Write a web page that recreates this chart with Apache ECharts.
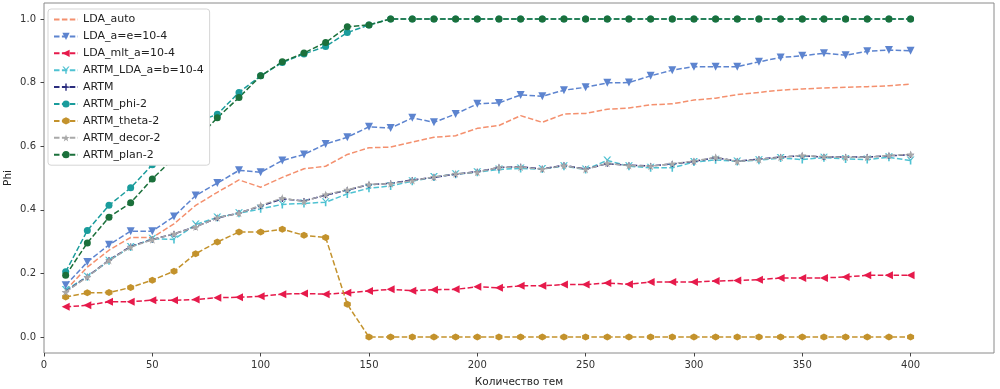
<!DOCTYPE html>
<html>
<head>
<meta charset="utf-8">
<script src="https://cdn.jsdelivr.net/npm/echarts@6/dist/echarts.min.js"></script>
<style>
  html, body { margin: 0; padding: 0; background: #fff; }
  #main { width: 1000px; height: 389px; }
</style>
</head>
<body>
<div id="main"></div>
<script>
// число тем
var topics = [10, 20, 30, 40, 50, 60, 70, 80, 90, 100, 110, 120, 130, 140, 150, 160, 170, 180, 190, 200,
              210, 220, 230, 240, 250, 260, 270, 280, 290, 300, 310, 320, 330, 340, 350, 360, 370, 380, 390, 400];

var ldaAuto = [0.147, 0.22, 0.273, 0.313, 0.313, 0.356, 0.414, 0.455, 0.494, 0.471, 0.502, 0.529, 0.537, 0.574, 0.595, 0.597, 0.613, 0.628, 0.633, 0.656,
               0.665, 0.696, 0.675, 0.701, 0.703, 0.716, 0.72, 0.73, 0.733, 0.745, 0.751, 0.762, 0.769, 0.776, 0.78, 0.783, 0.785, 0.787, 0.79, 0.795];
var ldaAE = [0.163, 0.236, 0.29, 0.333, 0.333, 0.379, 0.445, 0.484, 0.524, 0.518, 0.555, 0.574, 0.607, 0.628, 0.661, 0.657, 0.689, 0.675, 0.701, 0.733,
             0.736, 0.761, 0.757, 0.776, 0.785, 0.799, 0.8, 0.821, 0.839, 0.85, 0.85, 0.85, 0.865, 0.879, 0.884, 0.892, 0.886, 0.898, 0.902, 0.9];
var ldaMlt = [0.095, 0.1, 0.111, 0.111, 0.116, 0.116, 0.118, 0.124, 0.125, 0.128, 0.135, 0.137, 0.135, 0.139, 0.145, 0.15, 0.146, 0.149, 0.15, 0.158,
              0.155, 0.161, 0.161, 0.165, 0.165, 0.17, 0.166, 0.173, 0.173, 0.173, 0.176, 0.178, 0.18, 0.186, 0.186, 0.186, 0.189, 0.194, 0.194, 0.194];
var artmLda = [0.148, 0.19, 0.24, 0.283, 0.309, 0.307, 0.354, 0.376, 0.389, 0.403, 0.417, 0.42, 0.424, 0.45, 0.468, 0.475, 0.49, 0.503, 0.512, 0.518,
               0.527, 0.53, 0.528, 0.537, 0.527, 0.555, 0.537, 0.532, 0.532, 0.55, 0.557, 0.552, 0.556, 0.563, 0.558, 0.564, 0.56, 0.558, 0.565, 0.555];
var artm = [0.143, 0.19, 0.242, 0.285, 0.307, 0.324, 0.347, 0.374, 0.39, 0.412, 0.434, 0.428, 0.446, 0.462, 0.479, 0.483, 0.494, 0.502, 0.512, 0.52,
            0.533, 0.535, 0.529, 0.54, 0.528, 0.545, 0.54, 0.538, 0.544, 0.552, 0.564, 0.553, 0.559, 0.566, 0.57, 0.566, 0.566, 0.566, 0.57, 0.573];
var phi2 = [0.205, 0.335, 0.414, 0.469, 0.542, 0.6, 0.675, 0.70, 0.769, 0.821, 0.863, 0.89, 0.913, 0.957, 0.981, 1, 1, 1, 1, 1,
            1, 1, 1, 1, 1, 1, 1, 1, 1, 1, 1, 1, 1, 1, 1, 1, 1, 1, 1, 1];
var theta2 = [0.126, 0.139, 0.14, 0.156, 0.179, 0.207, 0.262, 0.299, 0.33, 0.33, 0.339, 0.32, 0.313, 0.103, 0, 0, 0, 0, 0, 0,
              0, 0, 0, 0, 0, 0, 0, 0, 0, 0, 0, 0, 0, 0, 0, 0, 0, 0, 0, 0];
var decor2 = [0.142, 0.189, 0.241, 0.283, 0.306, 0.325, 0.346, 0.375, 0.389, 0.414, 0.437, 0.426, 0.448, 0.463, 0.48, 0.482, 0.492, 0.503, 0.513, 0.518,
              0.534, 0.534, 0.528, 0.539, 0.527, 0.546, 0.539, 0.537, 0.545, 0.553, 0.565, 0.552, 0.558, 0.565, 0.571, 0.567, 0.565, 0.565, 0.571, 0.574];
var plan2 = [0.194, 0.296, 0.377, 0.422, 0.497, 0.563, 0.618, 0.689, 0.753, 0.821, 0.865, 0.893, 0.926, 0.975, 0.981, 1, 1, 1, 1, 1,
             1, 1, 1, 1, 1, 1, 1, 1, 1, 1, 1, 1, 1, 1, 1, 1, 1, 1, 1, 1];

// маркеры
var STAR = 'path://M10,0 L12.35,6.76 L19.51,6.91 L13.8,11.24 L15.88,18.09 L10,14 L4.12,18.09 L6.2,11.24 L0.49,6.91 L7.65,6.76 Z';
var TRI_DOWN = 'path://M0,0 L2,0 L5,3.5 L8,0 L10,0 L6,4.6 L6,10 L4,10 L4,4.6 Z';
var PLUS = 'path://M4,0 L6,0 L6,4 L10,4 L10,6 L6,6 L6,10 L4,10 L4,6 L0,6 L0,4 L4,4 Z';
var HEX = 'path://M5,0 L9.33,2.5 L9.33,7.5 L5,10 L0.67,7.5 L0.67,2.5 Z';

function pairs(vals) {
    var out = [];
    for (var i = 0; i < topics.length; i++) {
        out.push([topics[i], vals[i]]);
    }
    return out;
}

function mkSeries(name, vals, color, symbol, size, rotate) {
    var noMarker = symbol === 'none';
    return {
        name: name,
        type: 'line',
        data: pairs(vals),
        symbol: noMarker ? 'circle' : symbol,
        symbolSize: size,
        symbolRotate: rotate || 0,
        showSymbol: !noMarker,
        animation: false,
        itemStyle: { color: color, borderWidth: 0, opacity: noMarker ? 0 : 1 },
        lineStyle: { color: color, width: 1.5, type: [5.5, 2.4], opacity: 1 }
    };
}

var series = [
    mkSeries('LDA_auto', ldaAuto, '#f4906e', 'none', 0),
    mkSeries('LDA_a=e=10-4', ldaAE, '#5d84cf', 'triangle', 8, 180),
    mkSeries('LDA_mlt_a=10-4', ldaMlt, '#e61a4b', 'triangle', 8, 90),
    mkSeries('ARTM_LDA_a=b=10-4', artmLda, '#4fc2d2', TRI_DOWN, 8),
    mkSeries('ARTM', artm, '#2b2d7e', PLUS, 6),
    mkSeries('ARTM_phi-2', phi2, '#1a9c9c', 'circle', 7),
    mkSeries('ARTM_theta-2', theta2, '#c3922c', HEX, 7),
    mkSeries('ARTM_decor-2', decor2, '#a9a9a9', STAR, 8),
    mkSeries('ARTM_plan-2', plan2, '#1b703b', 'circle', 7)
];

var myChart = echarts.init(document.getElementById('main'));
var option = {
    backgroundColor: '#fff',
    textStyle: { fontFamily: 'DejaVu Sans' },
    grid: {
        show: true,
        left: 44,
        right: 6,
        top: 3,
        bottom: 36,
        containLabel: false,
        outerBoundsMode: 'none',
        borderColor: '#8a8a8a',
        borderWidth: 1
    },
    legend: {
        orient: 'vertical',
        left: 48,
        top: 9,
        padding: [5, 6, 5, 5],
        itemWidth: 24,
        itemHeight: 9,
        itemGap: 5.9,
        backgroundColor: '#fff',
        borderColor: '#d5d5d5',
        borderWidth: 1,
        borderRadius: 3,
        textStyle: { fontSize: 11, color: '#222', fontFamily: 'DejaVu Sans' },
        data: series.map(function (s) { return s.name; })
    },
    xAxis: {
        type: 'value',
        min: 0,
        max: 438.5,
        splitNumber: 9,
        name: 'Количество тем',
        nameLocation: 'middle',
        nameGap: 24,
        nameMoveOverlap: false,
        nameTextStyle: { fontSize: 10.5, color: '#222' },
        axisLine: { show: false, onZero: false },
        axisTick: { show: true, length: 3.5, lineStyle: { color: '#444' } },
        axisLabel: { fontSize: 10, color: '#333', margin: 7, showMaxLabel: false },
        splitLine: { show: false }
    },
    yAxis: {
        type: 'value',
        min: -0.05,
        max: 1.05,
        splitNumber: 5,
        name: 'Phi',
        nameLocation: 'middle',
        nameGap: 30,
        nameMoveOverlap: false,
        nameTextStyle: { fontSize: 10.5, color: '#222' },
        axisLine: { show: false, onZero: false },
        axisTick: { show: true, length: 3.5, lineStyle: { color: '#444' } },
        axisLabel: {
            fontSize: 10, color: '#333', margin: 8,
            showMinLabel: false, showMaxLabel: false,
            formatter: function (v) { return v.toFixed(1); }
        },
        splitLine: { show: false }
    },
    series: series
};
myChart.setOption(option);
</script>
</body>
</html>
